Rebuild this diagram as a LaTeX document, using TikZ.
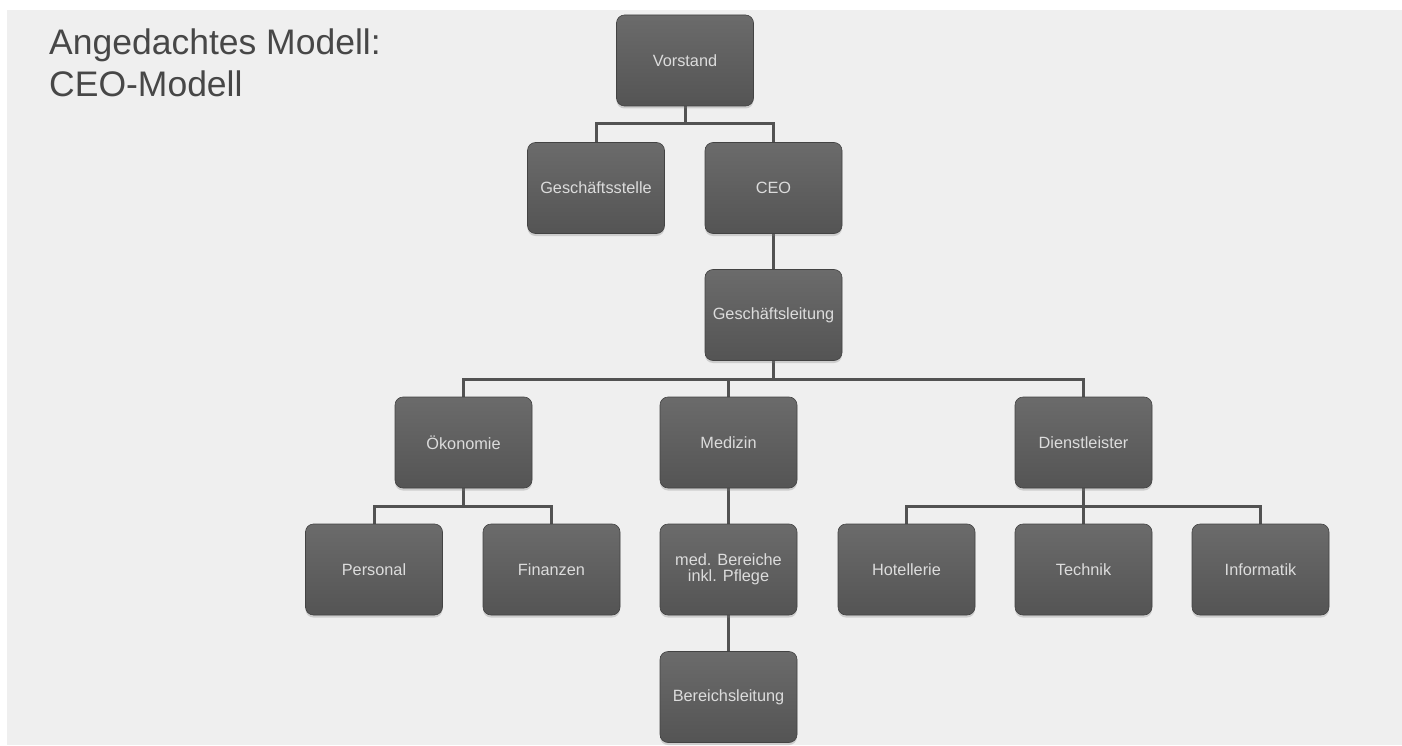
\documentclass[tikz,border=0pt]{standalone}
\usepackage{fontspec}
\setmainfont{Liberation Sans}
\usetikzlibrary{shadows,backgrounds}
\pgfdeclarelayer{page}
\pgfdeclarelayer{background}
\pgfsetlayers{page,background,main}
\definecolor{pagebg}{HTML}{EFEFEF}
\definecolor{boxtop}{HTML}{6B6B6B}
\definecolor{boxbot}{HTML}{545454}
\definecolor{boxtext}{HTML}{DCDCDC}
\definecolor{wire}{HTML}{525252}
\definecolor{titletext}{HTML}{474747}
\tikzset{
  orgbox/.style={rectangle, rounded corners=8pt, minimum width=137pt, minimum height=91pt,
    top color=boxtop, bottom color=boxbot, draw=boxbot!80!black, line width=0.6pt,
    text=boxtext, align=center, font=\fontsize{16.3}{17.5}\selectfont,
    drop shadow={opacity=0.3, shadow xshift=0pt, shadow yshift=-2.5pt}},
  wireline/.style={draw=wire, line width=3pt},
  titlestyle/.style={anchor=base west, inner sep=0pt, text=titletext, font=\fontsize{35.5}{40}\selectfont}
}
\begin{document}
\begin{tikzpicture}[x=1pt, y=-1pt]
  % page and grey slide area
  \begin{pgfonlayer}{page}
    \fill[white] (0,0) rectangle (1402,746);
    \fill[pagebg] (7,10) rectangle (1402,745);
  \end{pgfonlayer}
  \useasboundingbox (0,0) rectangle (1402,746);

  % heading
  \node[titlestyle] (title1) at (49,55) {Angedachtes Modell:};
  \node[titlestyle] (title2) at (49,97) {CEO-Modell};

  % bus points of the branching connectors
  \coordinate (vbus) at (685,123.5);
  \coordinate (gbus) at (773.5,379);
  \coordinate (obus) at (463.5,506);
  \coordinate (dbus) at (1083.5,506);

  % boxes
  \node[orgbox] (vorstand) at (685,60.5) {Vorstand};
  \node[orgbox] (gstelle) at (596,188) {Geschäftsstelle};
  \node[orgbox] (ceo) at (773.5,188) {CEO};
  \node[orgbox] (gleitung) at (773.5,315) {Geschäftsleitung};
  \node[orgbox] (oekonomie) at (463.5,442.5) {Ökonomie};
  \node[orgbox] (medizin) at (728.5,442.5) {Medizin};
  \node[orgbox] (dienst) at (1083.5,442.5) {Dienstleister};
  \node[orgbox] (personal) at (374,569.5) {Personal};
  \node[orgbox] (finanzen) at (551.5,569.5) {Finanzen};
  \node[orgbox] (medber) at (728.5,569.5) {med. Bereiche\\[-2pt]inkl. Pflege};
  \node[orgbox] (bereich) at (728.5,697) {Bereichsleitung};
  \node[orgbox] (hotel) at (906.5,569.5) {Hotellerie};
  \node[orgbox] (technik) at (1083.5,569.5) {Technik};
  \node[orgbox] (informatik) at (1260.5,569.5) {Informatik};

  % connectors, kept behind the boxes
  \begin{pgfonlayer}{background}
    \draw[wireline] (vorstand.south) -- (vorstand.south |- vbus) -| (gstelle.north);
    \draw[wireline] (vorstand.south |- vbus) -| (ceo.north);
    \draw[wireline] (ceo.south) -- (gleitung.north);
    \draw[wireline] (gleitung.south) -- (gbus) -| (oekonomie.north);
    \draw[wireline] (gbus) -| (medizin.north);
    \draw[wireline] (gbus) -| (dienst.north);
    \draw[wireline] (oekonomie.south) -- (obus) -| (personal.north);
    \draw[wireline] (obus) -| (finanzen.north);
    \draw[wireline] (medizin.south) -- (medber.north);
    \draw[wireline] (medber.south) -- (bereich.north);
    \draw[wireline] (dienst.south) -- (dbus) -| (hotel.north);
    \draw[wireline] (dbus) -| (technik.north);
    \draw[wireline] (dbus) -| (informatik.north);
  \end{pgfonlayer}
\end{tikzpicture}
\end{document}
